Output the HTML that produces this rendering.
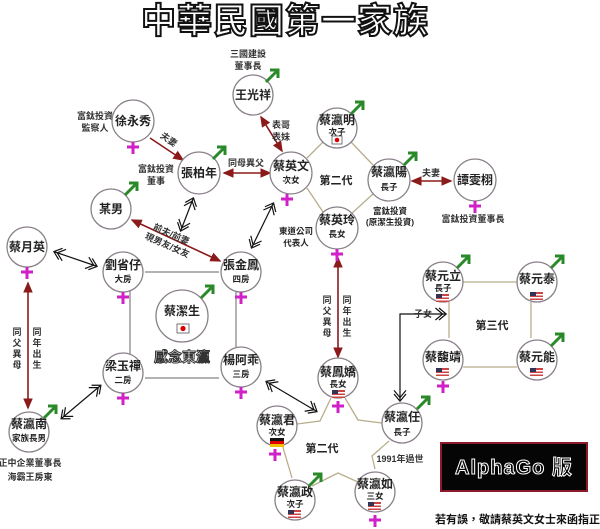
<!DOCTYPE html>
<html><head><meta charset="utf-8"><style>
html,body{margin:0;padding:0;background:#fff;width:600px;height:529px;overflow:hidden}
svg{display:block;font-family:"Liberation Sans","Noto Sans CJK TC",sans-serif}
.n{fill:#fff;stroke:#8a808a;stroke-width:1.3}
.t{font-size:12px;font-weight:bold;fill:#222;text-anchor:middle}
.s{font-size:8.5px;font-weight:bold;fill:#222;text-anchor:middle}
.l{font-size:9px;font-weight:bold;fill:#333;text-anchor:middle}
.m{stroke:#2a8a2a;stroke-width:3;fill:none}
.f{stroke:#d020c8;stroke-width:3}
.red{stroke:#8b1a1a;stroke-width:1.6;fill:none}
.blk{stroke:#111;stroke-width:1.2;fill:none}
.gr{stroke:#999;stroke-width:1.5;fill:none}
.tan{stroke:#b8ae8c;stroke-width:1.3;fill:none}
</style></head><body>
<svg width="600" height="529" viewBox="0 0 600 529">
<defs>
<marker id="ar" markerWidth="8" markerHeight="8" refX="6" refY="4" orient="auto-start-reverse"><path d="M0,1 L7,4 L0,7 z" fill="#8b1a1a"/></marker>
<marker id="dbl" markerWidth="12" markerHeight="12" refX="10" refY="6" orient="auto-start-reverse"><path d="M2,1 L8,6 L2,11 M5,1 L11,6 L5,11" stroke="#111" fill="none" stroke-width="1"/></marker>
</defs>
<text x="285" y="33" font-size="35" font-weight="bold" fill="#fff" stroke="#111" stroke-width="2" text-anchor="middle" letter-spacing="1">中華民國第一家族</text>

<path class="gr" d="M145,272 H219 M130,290 V355 M145,378 H219 M236,292 V347"/>
<path class="tan" d="M307,158 L323,142 M351,142 L373,165 M307,188 L323,212 M351,214 L373,194"/>
<path class="tan" d="M331,398 L320,421 L297,424 M345,398 L358,420 L382,423 M282,444 L292,478 M312,486 L338,473 L358,482 M389,441 L372,456 L375,469"/>
<path class="tan" d="M463,282 H517 M449,302 V338 M463,367 H517 M531,302 V338"/>

<line class="red" x1="150" y1="138" x2="183" y2="160" marker-end="url(#ar)"/>
<line class="red" x1="224" y1="173" x2="270" y2="173" marker-start="url(#ar)" marker-end="url(#ar)"/>
<line class="red" x1="261" y1="117" x2="282" y2="151" marker-start="url(#ar)" marker-end="url(#ar)"/>
<line class="red" x1="412" y1="181" x2="451" y2="181" marker-start="url(#ar)" marker-end="url(#ar)"/>
<line class="red" x1="132" y1="220" x2="220" y2="261" marker-start="url(#ar)" marker-end="url(#ar)"/>
<line class="red" x1="28" y1="283" x2="28" y2="408" marker-start="url(#ar)" marker-end="url(#ar)"/>
<line class="red" x1="338" y1="258" x2="338" y2="357" marker-start="url(#ar)" marker-end="url(#ar)"/>
<line class="blk" x1="193" y1="199" x2="181" y2="230" marker-start="url(#dbl)" marker-end="url(#dbl)"/>
<line class="blk" x1="273" y1="204" x2="252" y2="247" marker-start="url(#dbl)" marker-end="url(#dbl)"/>
<line class="blk" x1="55" y1="252" x2="96" y2="266" marker-start="url(#dbl)" marker-end="url(#dbl)"/>
<line class="blk" x1="62" y1="418" x2="100" y2="386" marker-start="url(#dbl)" marker-end="url(#dbl)"/>
<line class="blk" x1="267" y1="382" x2="316" y2="411" marker-start="url(#dbl)" marker-end="url(#dbl)"/>
<path class="blk" d="M400,400 V314 H445" marker-start="url(#dbl)" marker-end="url(#dbl)"/>

<text class="l" x="248" y="57">三國建設</text><text class="l" x="248" y="69">董事長</text>
<text class="l" x="95" y="119">富鈦投資</text><text class="l" x="95" y="131">監察人</text>
<text class="l" x="167" y="142" transform="rotate(35 167 142)">夫妻</text>
<text class="l" x="156" y="172">富鈦投資</text><text class="l" x="156" y="184">董事</text>
<text class="l" x="246" y="166">同母異父</text>
<text class="l" x="281" y="128">表哥</text><text class="l" x="281" y="140">表妹</text>
<text class="l" x="431" y="176">夫妻</text>
<text class="s" x="390" y="214">富鈦投資</text><text class="s" x="390" y="225">(原潔生投資)</text>
<text class="l" x="473" y="222">富鈦投資董事長</text>
<text class="s" x="296" y="234">東道公司</text><text class="s" x="296" y="246">代表人</text>
<text class="t" x="336" y="184" style="font-size:11px">第二代</text>
<text class="l" x="170" y="237" transform="rotate(24 170 237)">前夫/前妻</text>
<text class="l" x="166" y="248" transform="rotate(24 166 248)">現男友/女友</text>
<g class="l"><text x="17" y="335">同</text><text x="17" y="346">父</text><text x="17" y="357">異</text><text x="17" y="368">母</text>
<text x="37" y="335">同</text><text x="37" y="346">年</text><text x="37" y="357">出</text><text x="37" y="368">生</text>
<text x="327" y="303">同</text><text x="327" y="314">父</text><text x="327" y="325">異</text><text x="327" y="336">母</text>
<text x="347" y="303">同</text><text x="347" y="314">年</text><text x="347" y="325">出</text><text x="347" y="336">生</text></g>
<text class="l" x="30" y="466">正中企業董事長</text><text class="l" x="30" y="480">海霸王房東</text>
<text x="182" y="362" font-size="14" font-weight="bold" fill="#fff" stroke="#333" stroke-width="1" text-anchor="middle">感念東瀛</text>
<text class="l" x="423" y="317">子女</text>
<text class="t" x="492" y="329" style="font-size:11px">第三代</text>
<text class="t" x="322" y="452" style="font-size:11px">第二代</text>
<text class="l" x="400" y="462">1991年過世</text>

<g>
<circle class="n" cx="253" cy="95" r="20"/><text class="t" x="253" y="99">王光祥</text>
<circle class="n" cx="133" cy="121" r="21"/><text class="t" x="133" y="125">徐永秀</text>
<circle class="n" cx="199" cy="173" r="21"/><text class="t" x="199" y="177">張柏年</text>
<circle class="n" cx="291" cy="173" r="21"/><text class="t" x="291" y="170">蔡英文</text><text class="s" x="291" y="183">次女</text>
<circle class="n" cx="337" cy="128" r="20"/><text class="t" x="337" y="124">蔡瀛明</text><text class="s" x="337" y="135">次子</text>
<circle class="n" cx="389" cy="180" r="21"/><text class="t" x="389" y="176">蔡瀛陽</text><text class="s" x="389" y="190">長子</text>
<circle class="n" cx="475" cy="180" r="21"/><text class="t" x="475" y="184">譚雯栩</text>
<circle class="n" cx="337" cy="228" r="21"/><text class="t" x="337" y="224">蔡英玲</text><text class="s" x="337" y="237">長女</text>
<circle class="n" cx="111" cy="209" r="20"/><text class="t" x="111" y="213">某男</text>
<circle class="n" cx="27" cy="247" r="20"/><text class="t" x="27" y="251">蔡月英</text>
<circle class="n" cx="123" cy="272" r="20"/><text class="t" x="123" y="269">劉省仔</text><text class="s" x="123" y="282">大房</text>
<circle class="n" cx="241" cy="272" r="20"/><text class="t" x="241" y="269">張金鳳</text><text class="s" x="241" y="282">四房</text>
<circle class="n" cx="182" cy="316" r="26"/><text class="t" x="182" y="315">蔡潔生</text>
<circle class="n" cx="123" cy="373" r="20"/><text class="t" x="123" y="370">梁玉禪</text><text class="s" x="123" y="383">二房</text>
<circle class="n" cx="241" cy="367" r="20"/><text class="t" x="241" y="364">楊阿乖</text><text class="s" x="241" y="377">三房</text>
<circle class="n" cx="29" cy="432" r="20"/><text class="t" x="29" y="428">蔡瀛南</text><text class="s" x="29" y="441">家族長男</text>
<circle class="n" cx="338" cy="378" r="20"/><text class="t" x="338" y="376">蔡鳳嬌</text><text class="s" x="338" y="387">長女</text>
<circle class="n" cx="277" cy="426" r="20"/><text class="t" x="277" y="424">蔡瀛君</text><text class="s" x="277" y="435">次女</text>
<circle class="n" cx="402" cy="423" r="20"/><text class="t" x="402" y="421">蔡瀛任</text><text class="s" x="402" y="435">長子</text>
<circle class="n" cx="295" cy="500" r="20"/><text class="t" x="295" y="496">蔡瀛政</text><text class="s" x="295" y="507">次子</text>
<circle class="n" cx="375" cy="492" r="20"/><text class="t" x="375" y="488">蔡瀛如</text><text class="s" x="375" y="499">三女</text>
<circle class="n" cx="443" cy="282" r="20"/><text class="t" x="443" y="280">蔡元立</text><text class="s" x="443" y="291">長子</text>
<circle class="n" cx="537" cy="282" r="20"/><text class="t" x="537" y="283">蔡元泰</text>
<circle class="n" cx="443" cy="360" r="20"/><text class="t" x="443" y="361">蔡馥靖</text>
<circle class="n" cx="537" cy="360" r="20"/><text class="t" x="537" y="361">蔡元能</text>
</g>

<g stroke="#555" stroke-width="0.8" fill="#fff">
<rect x="332" y="136" width="10" height="8"/><rect x="177" y="324" width="12" height="9"/>
</g>
<circle cx="337" cy="140" r="2.3" fill="#d00"/><circle cx="183" cy="328.5" r="2.6" fill="#d00"/>
<rect x="270" y="438" width="14" height="3" fill="#111"/><rect x="270" y="441" width="14" height="3" fill="#d00"/><rect x="270" y="444" width="14" height="3" fill="#f0c000"/>
<g fill="#c44">
<rect x="332" y="390" width="13" height="8"/><rect x="288" y="510" width="13" height="8"/><rect x="368" y="502" width="13" height="8"/>
<rect x="436" y="294" width="13" height="8"/><rect x="530" y="292" width="13" height="8"/><rect x="436" y="368" width="13" height="8"/><rect x="530" y="368" width="13" height="8"/>
</g>
<g fill="#fff"><rect x="332" y="392" width="13" height="1.5"/><rect x="288" y="512" width="13" height="1.5"/><rect x="368" y="504" width="13" height="1.5"/><rect x="436" y="296" width="13" height="1.5"/><rect x="530" y="294" width="13" height="1.5"/><rect x="436" y="370" width="13" height="1.5"/><rect x="530" y="370" width="13" height="1.5"/>
<rect x="332" y="395" width="13" height="1.5"/><rect x="288" y="515" width="13" height="1.5"/><rect x="368" y="507" width="13" height="1.5"/><rect x="436" y="299" width="13" height="1.5"/><rect x="530" y="297" width="13" height="1.5"/><rect x="436" y="373" width="13" height="1.5"/><rect x="530" y="373" width="13" height="1.5"/></g>
<g fill="#335"><rect x="332" y="390" width="6" height="4"/><rect x="288" y="510" width="6" height="4"/><rect x="368" y="502" width="6" height="4"/><rect x="436" y="294" width="6" height="4"/><rect x="530" y="292" width="6" height="4"/><rect x="436" y="368" width="6" height="4"/><rect x="530" y="368" width="6" height="4"/></g>

<g class="m">
<path d="M266,82 L278,70 M270,70 H278 V78"/>
<path d="M213,159 L225,147 M217,147 H225 V155"/>
<path d="M351,114 L363,102 M355,102 H363 V110"/>
<path d="M404,165 L416,153 M408,153 H416 V161"/>
<path d="M125,195 L137,183 M129,183 H137 V191"/>
<path d="M201,298 L213,286 M205,286 H213 V294"/>
<path d="M44,418 L56,406 M48,406 H56 V414"/>
<path d="M417,409 L429,397 M421,397 H429 V405"/>
<path d="M309,486 L321,474 M313,474 H321 V482"/>
<path d="M457,268 L469,256 M461,256 H469 V264"/>
<path d="M551,268 L563,256 M555,256 H563 V264"/>
<path d="M551,346 L563,334 M555,334 H563 V342"/>
</g>
<g class="f">
<path d="M133,142 V154 M127,147 H139"/>
<path d="M287,194 V206 M281,199 H293"/>
<path d="M475,201 V213 M469,206 H481"/>
<path d="M337,249 V261 M331,254 H343"/>
<path d="M27,267 V279 M21,272 H33"/>
<path d="M123,292 V304 M117,297 H129"/>
<path d="M241,292 V304 M235,297 H247"/>
<path d="M123,393 V405 M117,398 H129"/>
<path d="M241,387 V399 M235,392 H247"/>
<path d="M338,401 V413 M332,406 H344"/>
<path d="M275,449 V461 M269,454 H281"/>
<path d="M375,515 V527 M369,520 H381"/>
<path d="M443,381 V393 M437,386 H449"/>
</g>

<rect x="441" y="443" width="146" height="48" fill="#050505" stroke="#8b1a2a" stroke-width="2"/>
<text x="514" y="474" font-size="20" font-weight="bold" fill="#050505" stroke="#fff" stroke-width="1" text-anchor="middle" letter-spacing="1">AlphaGo 版</text>
<text x="600" y="523" font-size="11" font-weight="bold" fill="#111" text-anchor="end">若有誤，敬請蔡英文女士來函指正</text>
</svg>
</body></html>
